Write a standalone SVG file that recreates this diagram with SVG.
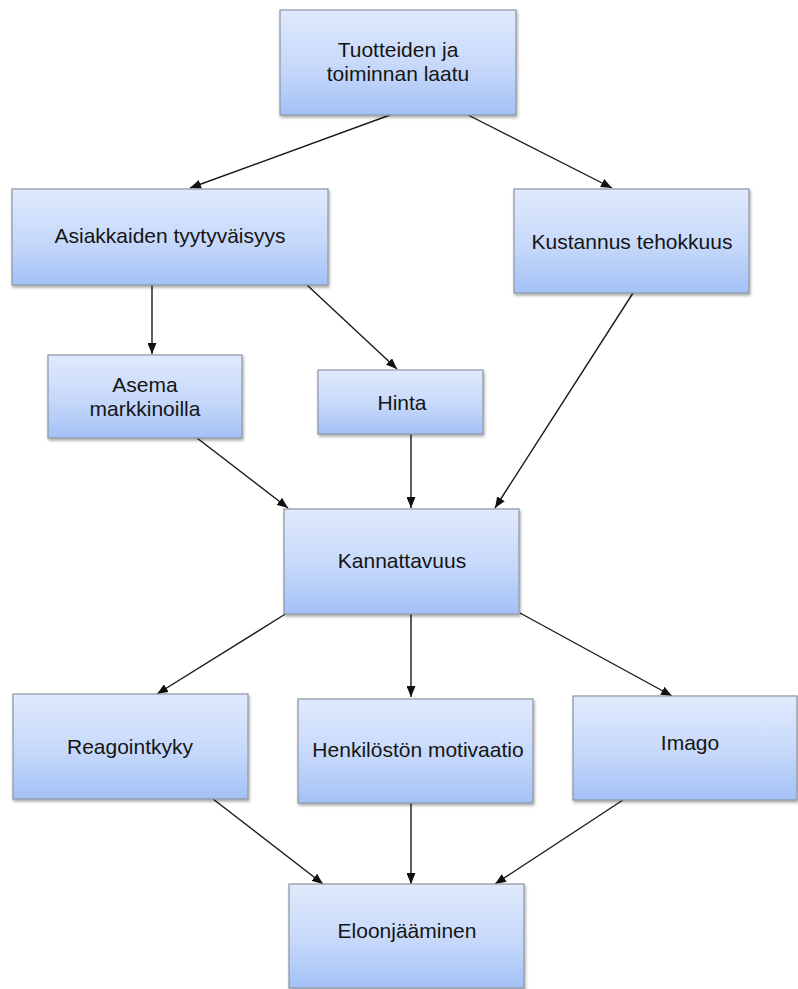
<svg xmlns="http://www.w3.org/2000/svg" width="798" height="989" viewBox="0 0 798 989">
  <defs>
    <linearGradient id="boxGrad" x1="0" y1="0" x2="0" y2="1">
      <stop offset="0" stop-color="#e0eafc"/>
      <stop offset="0.55" stop-color="#c6d8fa"/>
      <stop offset="1" stop-color="#a3c1f6"/>
    </linearGradient>
    <filter id="shadow" x="-10%" y="-10%" width="120%" height="130%">
      <feDropShadow dx="1" dy="2" stdDeviation="1.5" flood-color="#000" flood-opacity="0.35"/>
    </filter>
    <marker id="arrow" markerUnits="userSpaceOnUse" markerWidth="11" markerHeight="9" refX="11" refY="4.5" orient="auto">
      <path d="M0,0 L11,4.5 L0,9 z" fill="#111"/>
    </marker>
  </defs>
  <style>
    .box { fill: url(#boxGrad); stroke: #8c94a3; stroke-width: 1.2; filter: url(#shadow); }
    .lbl { font-family: "Liberation Sans", Arial, sans-serif; font-size: 21px; fill: #151515; text-anchor: middle; }
    .conn line { stroke: #1a1a1a; stroke-width: 1.4; marker-end: url(#arrow); }
  </style>
  <rect width="798" height="989" fill="#ffffff"/>

  <g id="connectors" class="conn">
    <line x1="390" y1="115" x2="190" y2="188"/>
    <line x1="468" y1="115" x2="612" y2="188"/>
    <line x1="152" y1="285" x2="152" y2="354"/>
    <line x1="307" y1="285" x2="397" y2="369"/>
    <line x1="633" y1="293" x2="495" y2="508"/>
    <line x1="197" y1="438" x2="288" y2="508"/>
    <line x1="411" y1="434" x2="411" y2="508"/>
    <line x1="287" y1="613" x2="157" y2="694"/>
    <line x1="411" y1="614" x2="411" y2="697"/>
    <line x1="520" y1="613" x2="672" y2="696"/>
    <line x1="213" y1="799" x2="323" y2="884"/>
    <line x1="411" y1="803" x2="411" y2="884"/>
    <line x1="623" y1="800" x2="495" y2="884"/>
  </g>

  <g id="n-laatu">
    <rect class="box" x="280" y="10" width="236" height="105"/>
    <text class="lbl" x="398" y="57">Tuotteiden ja</text>
    <text class="lbl" x="398" y="81">toiminnan laatu</text>
  </g>
  <g id="n-asiakkaiden">
    <rect class="box" x="12" y="189" width="316" height="96"/>
    <text class="lbl" x="170" y="243">Asiakkaiden tyytyväisyys</text>
  </g>
  <g id="n-kustannus">
    <rect class="box" x="514" y="189" width="235" height="104"/>
    <text class="lbl" x="632" y="249">Kustannus tehokkuus</text>
  </g>
  <g id="n-asema">
    <rect class="box" x="48" y="355" width="194" height="83"/>
    <text class="lbl" x="145" y="392">Asema</text>
    <text class="lbl" x="145" y="416">markkinoilla</text>
  </g>
  <g id="n-hinta">
    <rect class="box" x="318" y="370" width="165" height="64"/>
    <text class="lbl" x="402" y="410">Hinta</text>
  </g>
  <g id="n-kannattavuus">
    <rect class="box" x="284" y="509" width="235" height="105"/>
    <text class="lbl" x="402" y="568">Kannattavuus</text>
  </g>
  <g id="n-reagointkyky">
    <rect class="box" x="13" y="694" width="235" height="105"/>
    <text class="lbl" x="130" y="754">Reagointkyky</text>
  </g>
  <g id="n-henkiloston">
    <rect class="box" x="298" y="699" width="235" height="104"/>
    <text class="lbl" x="418" y="757">Henkilöstön motivaatio</text>
  </g>
  <g id="n-imago">
    <rect class="box" x="573" y="696" width="224" height="104"/>
    <text class="lbl" x="690" y="750">Imago</text>
  </g>
  <g id="n-eloonjaaminen">
    <rect class="box" x="289" y="884" width="235" height="104"/>
    <text class="lbl" x="407" y="938">Eloonjääminen</text>
  </g>
</svg>
